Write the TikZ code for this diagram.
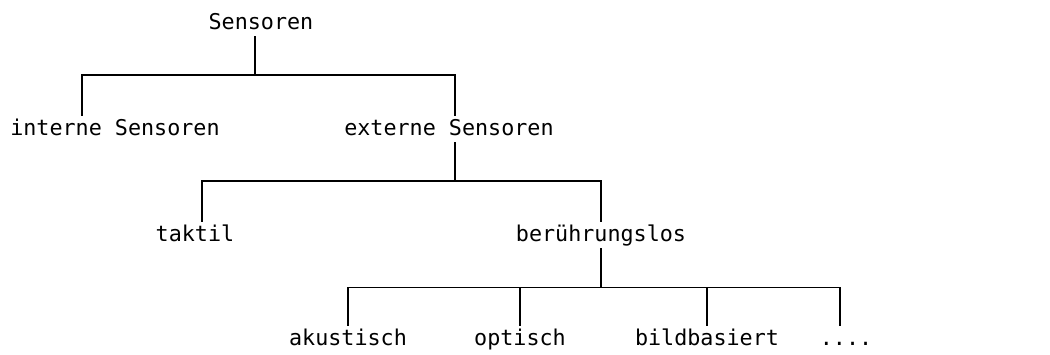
\documentclass[tikz,border=0pt]{standalone}
\usepackage{fontspec}
\setmonofont{DejaVu Sans Mono}
\begin{document}
\begin{tikzpicture}[x=0.75pt,y=-0.75pt,
  term/.style={font=\ttfamily\fontsize{16.3}{19}\selectfont, anchor=base,
    inner sep=0pt, outer sep=2.2pt, text height=12.7pt, text depth=3.3pt},
  branch/.style={line width=0.9pt, line cap=rect}]
\useasboundingbox (0,0) rectangle (1050,354);

% labels, placed on their baselines
\node[term] (root) at (261,29) {Sensoren};
\node[term] (int)  at (115,135) {interne Sensoren};
\node[term] (ext)  at (449,135) {externe Sensoren};
\node[term] (tak)  at (195,241) {taktil};
\node[term] (ber)  at (601,241) {berührungslos};
\node[term] (aku)  at (348,345) {akustisch};
\node[term] (opt)  at (520,345) {optisch};
\node[term] (bild) at (707,345) {bildbasiert};
\node[term] (more) at (846,345) {....};

% bus junctions
\coordinate (r0) at (255,75);
\coordinate (r1) at (82,75);
\coordinate (r2) at (455,75);
\coordinate (e0) at (455,181);
\coordinate (e1) at (202,181);
\coordinate (e2) at (601,181);
\coordinate (b0) at (601,287.5);
\coordinate (b1) at (348,287.5);
\coordinate (b2) at (520,287.5);
\coordinate (b3) at (707,287.5);
\coordinate (b4) at (840,287.5);

% Sensoren
\draw[branch] (root.south -| r0) -- (r0);
\draw[branch] (r1) -- (r2);
\draw[branch] (r1) -- (int.north -| r1);
\draw[branch] (r2) -- (ext.north -| r2);

% externe Sensoren
\draw[branch] (ext.south -| e0) -- (e0);
\draw[branch] (e1) -- (e2);
\draw[branch] (e1) -- (tak.north -| e1);
\draw[branch] (e2) -- (ber.north -| e2);

% berührungslos
\draw[branch] (ber.south -| b0) -- (b0);
\draw[branch] (b1) -- (b4);
\draw[branch] (b1) -- (aku.north -| b1);
\draw[branch] (b2) -- (opt.north -| b2);
\draw[branch] (b3) -- (bild.north -| b3);
\draw[branch] (b4) -- (more.north -| b4);
\end{tikzpicture}
\end{document}
